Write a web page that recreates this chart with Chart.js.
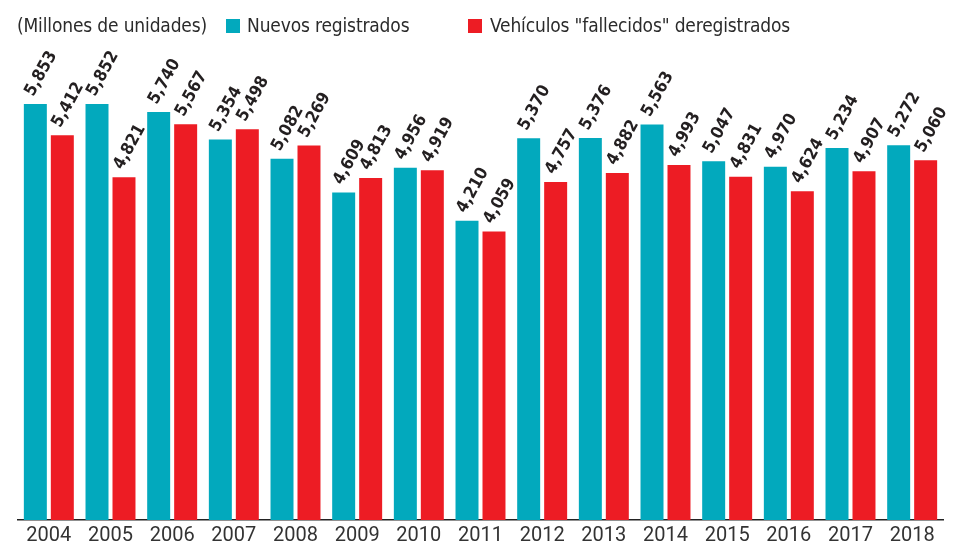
<!DOCTYPE html>
<html>
<head>
<meta charset="utf-8">
<script src="https://cdn.jsdelivr.net/npm/chart.js@4"></script>
<style>
  body { margin: 0; background: #fff; }
  .wrap { position: relative; width: 974px; height: 546px; }
  .leg { position: absolute; top: 13px; font-family: "Liberation Sans Narrow", "DejaVu Sans Condensed", sans-serif; font-size: 19px; letter-spacing: -0.15px; color: #2b2b2b; white-space: nowrap; line-height: 24px; }
  .sq { position: absolute; top: 19px; width: 14px; height: 14px; }
</style>
</head>
<body>
<div class="wrap">
  <canvas id="regChart" width="974" height="546"></canvas>
  <span class="leg" style="left:17px">(Millones de unidades)</span>
  <span class="sq" style="left:226px;background:#02A9BD"></span>
  <span class="leg" style="left:247px">Nuevos registrados</span>
  <span class="sq" style="left:468px;background:#ED1C24"></span>
  <span class="leg" style="left:490px">Vehículos "fallecidos" deregistrados</span>
</div>
<script>
const years = ['2004', '2005', '2006', '2007', '2008', '2009', '2010', '2011', '2012', '2013', '2014', '2015', '2016', '2017', '2018'];
const nuevos = [5853, 5852, 5740, 5354, 5082, 4609, 4956, 4210, 5370, 5376, 5563, 5047, 4970, 5234, 5272];
const fallecidos = [5412, 4821, 5567, 5498, 5269, 4813, 4919, 4059, 4757, 4882, 4993, 4831, 4624, 4907, 5060];

const TEAL = '#02A9BD';
const RED = '#ED1C24';

// etiquetas giradas encima de cada barra
const barLabels = {
  id: 'barLabels',
  afterDatasetsDraw(chart) {
    const c = chart.ctx;
    c.save();
    c.fillStyle = '#231F20';
    c.font = 'bold 17px "DejaVu Sans Condensed", "DejaVu Sans", sans-serif';
    c.textAlign = 'left';
    c.textBaseline = 'alphabetic';
    chart.data.datasets.forEach((ds, i) => {
      chart.getDatasetMeta(i).data.forEach((bar, j) => {
        c.save();
        c.translate(bar.x - 2, bar.y - 7);
        c.rotate(-61 * Math.PI / 180);
        c.fillText(ds.data[j].toLocaleString('en-US'), 0, 0);
        c.restore();
      });
    });
    c.restore();
  }
};

document.addEventListener('DOMContentLoaded', function() {
  const ctx = document.getElementById('regChart');
  new Chart(ctx, {
    type: 'bar',
    data: {
      labels: years,
      datasets: [{
        label: 'Nuevos registrados',
        data: nuevos,
        backgroundColor: TEAL,
        categoryPercentage: 0.875,
        barPercentage: 0.852
      },
      {
        label: 'Vehículos "fallecidos" deregistrados',
        data: fallecidos,
        backgroundColor: RED,
        categoryPercentage: 0.875,
        barPercentage: 0.852
      }]
    },
    options: {
      responsive: false,
      animation: false,
      layout: { padding: { top: 58, left: 18, right: 31, bottom: 0 } },
      plugins: {
        legend: { display: false },
        tooltip: { enabled: false },
        title: { display: false }
      },
      scales: {
        x: {
          grid: { display: false, drawTicks: false },
          border: { color: '#222', width: 1.5 },
          ticks: {
            color: '#333',
            padding: 4,
            font: { family: 'Roboto', size: 20 }
          },
          afterFit: (scale) => { scale.height = 26; }
        },
        y: {
          display: false,
          min: 0,
          max: 6500
        }
      }
    },
    plugins: [barLabels]
  });
});
</script>
</body>
</html>
